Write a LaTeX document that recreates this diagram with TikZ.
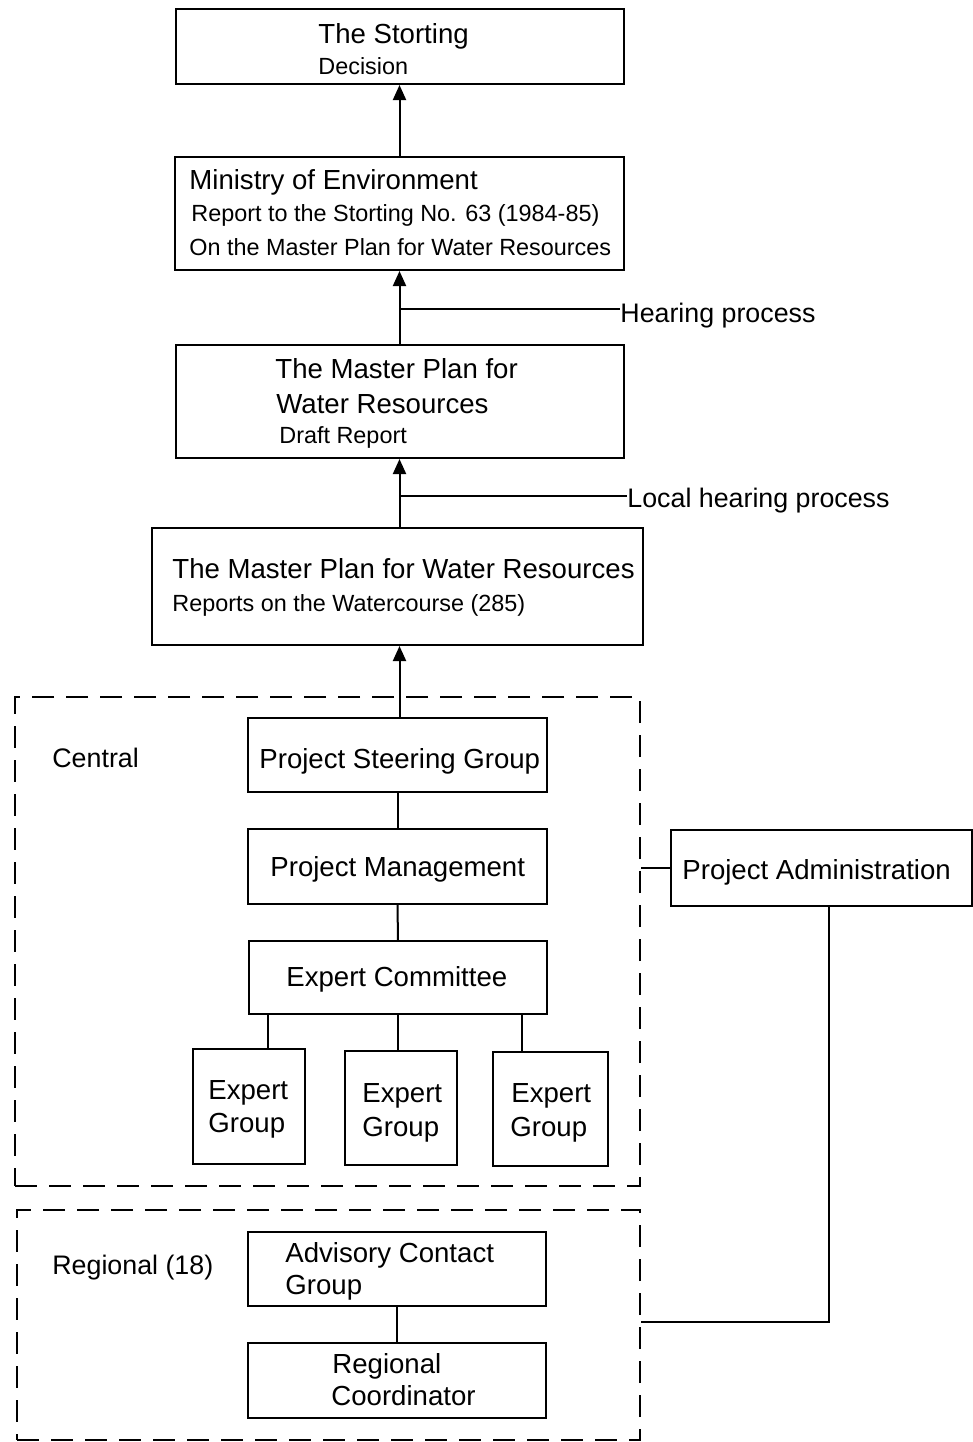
\documentclass[tikz,border=0pt]{standalone}
\usepackage{fontspec}
\setmainfont{Liberation Sans}
\usetikzlibrary{arrows.meta,calc}
\newcommand\bigtxt{\fontsize{13.8}{16}\selectfont}
\newcommand\smalltxt{\fontsize{11.7}{14}\selectfont}
\newcommand\labtxt{\fontsize{13.4}{16}\selectfont}
\begin{document}
\begin{tikzpicture}[x=0.5pt,y=-0.5pt,
  box/.style={draw, line width=1pt, inner sep=0pt},
  group/.style={draw, line width=1pt, dash pattern=on 11pt off 6pt, inner sep=0pt},
  big/.style={anchor=base west, inner sep=0pt, font=\bigtxt},
  small/.style={anchor=base west, inner sep=0pt, font=\smalltxt},
  lab/.style={anchor=base west, inner sep=0pt, font=\labtxt},
  link/.style={line width=1pt},
  up/.style={line width=1pt, -{Triangle[length=7.5pt,width=6.5pt]}}]
\useasboundingbox (0,0) rectangle (973,1442);

% main chain of reports
\node[box, minimum width=224pt, minimum height=37.5pt] (storting) at (400,46.5) {};
\node[box, minimum width=224.5pt, minimum height=56.5pt] (ministry) at (399.5,213.5) {};
\node[box, minimum width=224pt, minimum height=56.5pt] (draft) at (400,401.5) {};
\node[box, minimum width=245.5pt, minimum height=58.5pt] (reports) at (397.5,586.5) {};

\node[big] (storting-t) at (318,43) {The Storting};
\node[small] (storting-s) at (318,74) {Decision};
\node[big] (ministry-t) at (189,189) {Ministry of Environment};
\node[small] (ministry-s1) at (191,221) {Report to the Storting No. 63 (1984-85)};
\node[small] (ministry-s2) at (189,255) {On the Master Plan for Water Resources};
\node[big] (draft-t1) at (275,378) {The Master Plan for};
\node[big] (draft-t2) at (276,413) {Water Resources};
\node[small] (draft-s) at (279,443) {Draft Report};
\node[big] (reports-t) at (172,578) {The Master Plan for Water Resources};
\node[small] (reports-s) at (172,611) {Reports on the Watercourse (285)};

% organisation groups
\node[group, minimum width=312.5pt, minimum height=244.5pt] (central) at (327.5,941.5) {};
\node[group, minimum width=311.5pt, minimum height=115pt] (regional) at (328.5,1325) {};
\node[lab] (central-t) at (52,767) {Central};
\node[lab] (regional-t) at (52,1274) {Regional (18)};

\node[box, minimum width=149.5pt, minimum height=37pt] (psg) at (397.5,755) {};
\node[box, minimum width=149.5pt, minimum height=37.5pt] (pm) at (397.5,866.5) {};
\node[box, minimum width=149pt, minimum height=36.5pt] (ec) at (398,977.5) {};
\node[box, minimum width=56pt, minimum height=57.5pt] (eg1) at (249,1106.5) {};
\node[box, minimum width=56pt, minimum height=57pt] (eg2) at (401,1108) {};
\node[box, minimum width=57.5pt, minimum height=57pt] (eg3) at (550.5,1109) {};
\node[box, minimum width=150.5pt, minimum height=38pt] (padmin) at (821.5,868) {};
\node[box, minimum width=149pt, minimum height=37pt] (acg) at (397,1269) {};
\node[box, minimum width=149pt, minimum height=37.5pt] (rc) at (397,1380.5) {};

\node[big] (psg-t) at (259,768) {Project Steering Group};
\node[big] (pm-t) at (270,876) {Project Management};
\node[big] (ec-t) at (286,986) {Expert Committee};
\node[big] (eg1-t1) at (208,1099) {Expert};
\node[big] (eg1-t2) at (208,1132) {Group};
\node[big] (eg2-t1) at (362,1102) {Expert};
\node[big] (eg2-t2) at (362,1136) {Group};
\node[big] (eg3-t1) at (511,1102) {Expert};
\node[big] (eg3-t2) at (510,1136) {Group};
\node[big] (padmin-t) at (682,879) {Project Administration};
\node[big] (acg-t1) at (285,1262) {Advisory Contact};
\node[big] (acg-t2) at (285,1294) {Group};
\node[big] (rc-t1) at (332,1373) {Regional};
\node[big] (rc-t2) at (331,1405) {Coordinator};

% hearing labels and their branch points on the main line
\node[lab] (hearing) at (620,322) {Hearing process};
\node[lab] (localhearing) at (627,507) {Local hearing process};
\coordinate (hp) at ($(ministry.south)!0.52!(ministry.south |- draft.north)$);
\coordinate (lhp) at ($(ministry.south |- draft.south)!0.54!(ministry.south |- reports.north)$);

% arrows upwards
\draw[up] (ministry.north) -- (ministry.north |- storting.south);
\draw[up] (ministry.south |- draft.north) -- (ministry.south);
\draw[up] (ministry.south |- reports.north) -- (ministry.south |- draft.south);
\draw[up] (ministry.south |- psg.north) -- (ministry.south |- reports.south);
\draw[link] (hp) -- (hp -| hearing.west);
\draw[link] (lhp) -- (lhp -| localhearing.west);

% organisation links
\draw[link] (psg.south) -- (pm.north);
\draw[link] (pm.south) -- (ec.north);
\draw[link] ([xshift=9.5pt]eg1.north) -- ([xshift=9.5pt]eg1.north |- ec.south);
\draw[link] ([xshift=-1.5pt]eg2.north) -- ([xshift=-1.5pt]eg2.north |- ec.south);
\draw[link] ([xshift=-14.25pt]eg3.north) -- ([xshift=-14.25pt]eg3.north |- ec.south);
\draw[link] (acg.south) -- (rc.north);
\draw[link] (padmin.west) -- (padmin.west -| central.east);
\draw[link] ([xshift=3.75pt]padmin.south) |- ([yshift=1.5pt]regional.east);
\end{tikzpicture}
\end{document}
